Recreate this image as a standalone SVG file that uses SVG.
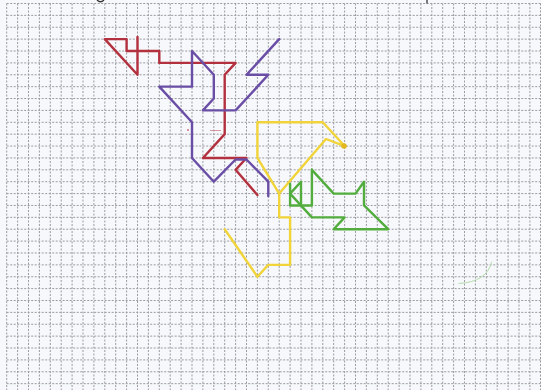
<svg xmlns="http://www.w3.org/2000/svg" width="541" height="390" viewBox="0 0 541 390">
<style>
.grid{fill:none;stroke:#9b9ba0;stroke-width:1;stroke-dasharray:2 1.5}
.ink{fill:none;stroke-width:2.4;stroke-linejoin:round;stroke-linecap:round}
.red{stroke:#b3303f}
.purple{stroke:#6a4ea6}
.yellow{stroke:#f0d43a}
.green{stroke:#52ad3e}
</style>
<rect width="541" height="390" fill="#f7f8fb"/>
<g id="grid">
<path class="grid" d="M6.7 3.5V390M17.6 3.5V390M28.5 3.5V390M39.4 3.5V390M50.3 3.5V390M61.2 3.5V390M72.1 3.5V390M83 3.5V390M93.9 3.5V390M104.8 3.5V390M115.7 3.5V390M126.6 3.5V390M137.5 3.5V390M148.4 3.5V390M159.3 3.5V390M170.2 3.5V390M181.1 3.5V390M192 3.5V390M202.9 3.5V390M213.8 3.5V390M224.7 3.5V390M235.6 3.5V390M246.5 3.5V390M257.4 3.5V390M268.3 3.5V390M279.2 3.5V390M290.1 3.5V390M301 3.5V390M311.9 3.5V390M322.8 3.5V390M333.7 3.5V390M344.6 3.5V390M355.5 3.5V390M366.4 3.5V390M377.3 3.5V390M388.2 3.5V390M399.1 3.5V390M410 3.5V390M420.9 3.5V390M431.8 3.5V390M442.7 3.5V390M453.6 3.5V390M464.5 3.5V390M475.4 3.5V390M486.3 3.5V390M497.2 3.5V390M508.1 3.5V390M519 3.5V390M529.9 3.5V390M540.5 3.5V390"/>
<path class="grid" d="M6.7 3.5H541M6.7 15.38H541M6.7 27.26H541M6.7 39.14H541M6.7 51.02H541M6.7 62.9H541M6.7 74.78H541M6.7 86.66H541M6.7 98.54H541M6.7 110.42H541M6.7 122.3H541M6.7 134.18H541M6.7 146.06H541M6.7 157.94H541M6.7 169.82H541M6.7 181.7H541M6.7 193.58H541M6.7 205.46H541M6.7 217.34H541M6.7 229.22H541M6.7 241.1H541M6.7 252.98H541M6.7 264.86H541M6.7 276.74H541M6.7 288.62H541M6.7 300.5H541M6.7 312.38H541M6.7 324.26H541M6.7 336.14H541M6.7 348.02H541M6.7 359.9H541M6.7 371.78H541M6.7 383.66H541"/>
</g>
<g id="marks">
<path d="M97 0Q100.5 3.5 104 0" fill="none" stroke="#333" stroke-width="1.3"/>
<path d="M427 0V3.5" fill="none" stroke="#333" stroke-width="1.3"/>
<path d="M491.7 261.7Q487 282 458.5 283.5" fill="none" stroke="#b4dcae" stroke-width="1"/>
<path d="M210 130.5H221" fill="none" stroke="#c9707a" stroke-width="1" opacity="0.7"/>
<circle cx="188" cy="130" r="1" fill="#c9707a"/>
</g>
<g id="red-figure">
<path class="ink red" d="M137.5 37V74.78L104.8 39.14H126.6V51.02H159.3V62.9H235.6L224.7 74.78V134.18L202.9 157.94H246.5L235.6 169.82L257.4 195"/>
</g>
<g id="purple-figure">
<path class="ink purple" d="M279.2 39.14L246.5 74.78H268.3L235.6 110.42H202.9L213.8 98.54V74.78L192 51.02V86.66H159.3L192 122.3V157.94L213.8 181.7L235.6 159.5H246.5L268.3 181.7V196"/>
</g>
<g id="yellow-figure">
<path class="ink yellow" d="M224.7 229.22L257.4 276.74L268.3 264.86H290.1V217.34H279.2V193.58L257.4 157.94V122.3H322.8L344.6 146.06L326 139L279.2 193.58"/>
<circle cx="344" cy="146" r="2.8" fill="#e3b81f"/>
</g>
<g id="green-figure">
<path class="ink green" d="M311.9 169.82L333.7 193.58H355.5L364 181.7V205.46L388.2 229.22H333.7L344.6 217.34H311.9L290.1 193.58"/>
<path class="ink green" d="M290.1 184V205.46H311.9V169.82M290.1 193.58L301 181.7V205.46"/>
</g>
</svg>
